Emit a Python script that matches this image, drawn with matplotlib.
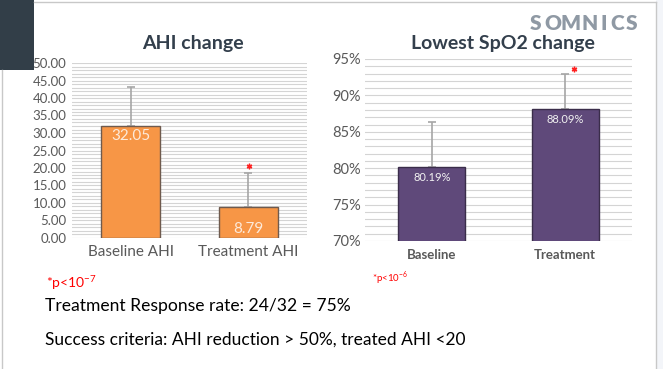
import numpy as np
import matplotlib.pyplot as plt
from matplotlib.patches import Rectangle
from matplotlib.lines import Line2D

plt.rcParams['font.family'] = ['Lato', 'DejaVu Sans']

# AHI chart data
ahi_labels = ['Baseline AHI', 'Treatment AHI']
ahi_means = [32.05, 8.79]
ahi_sd = [11.0, 9.7]
ahi_ticks = [0, 5, 10, 15, 20, 25, 30, 35, 40, 45, 50]

# SpO2 chart data
spo2_labels = ['Baseline', 'Treatment']
spo2_means = [80.19, 88.09]
spo2_sd = [6.1, 4.9]
spo2_ticks = [70, 75, 80, 85, 90, 95]

W, H = 663, 369
fig = plt.figure(figsize=(W / 100, H / 100), dpi=100)
fig.patch.set_facecolor('white')

def px(x, y, w, h):
    return [x / W, 1 - (y + h) / H, w / W, h / H]

# slide decorations
fig.patches.append(Rectangle((0, 1 - 70 / H), 34 / W, 70 / H, transform=fig.transFigure,
                             facecolor='#323e48', edgecolor='none'))
fig.patches.append(Rectangle((656 / W, 0), 7 / W, 1, transform=fig.transFigure,
                             facecolor='#f3f5f9', edgecolor='none'))
fig.lines.append(Line2D([34 / W, 656 / W], [1 - 2 / H, 1 - 2 / H], transform=fig.transFigure,
                        color='#c8c8c8', lw=1))
fig.lines.append(Line2D([2 / W, 2 / W], [0, 1 - 70 / H], transform=fig.transFigure,
                        color='#c8c8c8', lw=1))
fig.lines.append(Line2D([656 / W, 656 / W], [0, 1 - 2 / H], transform=fig.transFigure,
                        color='#c8c8c8', lw=1))

grid_c = '#d4d4d4'
star = (6, 2, 0)

# ---- left chart ----
ax1 = fig.add_axes(px(72, 63, 235, 175))
x = np.arange(len(ahi_labels))
ax1.bar(x, ahi_means, width=0.5, color='#f79646', edgecolor='#6e5a4e', linewidth=1, zorder=3)
ax1.errorbar(x, ahi_means, yerr=[np.zeros(len(x)), ahi_sd], fmt='none', ecolor='#a6a6a6',
             elinewidth=1.2, capsize=3, capthick=1.2, zorder=2)
ax1.set_xlim(-0.5, 1.5)
ax1.set_ylim(0, 50)
ax1.set_yticks(ahi_ticks)
ax1.set_yticklabels(['%.2f' % t for t in ahi_ticks])
ax1.set_yticks(np.arange(0, 51, 1), minor=True)
ax1.grid(True, axis='y', which='both', color=grid_c, lw=0.8, zorder=0)
ax1.set_xticks(x)
ax1.set_xticklabels(ahi_labels, fontsize=11, color='#595959')
ax1.tick_params(axis='both', which='both', length=0)
ax1.tick_params(axis='y', labelsize=9.5, labelcolor='#595959', pad=4)
ax1.tick_params(axis='x', pad=5)
for s in ax1.spines.values():
    s.set_visible(False)
ax1.text(0, ahi_means[0] - 1, '%.2f' % ahi_means[0], ha='center', va='top', color='#fdeada', fontsize=11)
ax1.text(1, 0.5, '%.2f' % ahi_means[1], ha='center', va='bottom', color='#fdeada', fontsize=11)
ax1.plot([1.01], [ahi_means[1] + ahi_sd[1] + 2.1], marker=star, color='#ff2020', ms=4, mew=1,
         ls='none', zorder=4, clip_on=False)
fig.text(193 / W, 1 - 43 / H, 'AHI change', ha='center', va='center', fontsize=14,
         fontweight='bold', color='#333f4c')

# ---- right chart ----
ax2 = fig.add_axes(px(365, 59, 267, 182))
x = np.arange(len(spo2_labels))
ax2.bar(x, spo2_means, width=0.5, color='#5f497a', edgecolor='#3a2d4a', linewidth=1, zorder=3)
ax2.errorbar(x, spo2_means, yerr=[np.zeros(len(x)), spo2_sd], fmt='none', ecolor='#a6a6a6',
             elinewidth=1.2, capsize=3, capthick=1.2, zorder=2)
ax2.set_xlim(-0.5, 1.5)
ax2.set_ylim(70, 95)
ax2.set_yticks(spo2_ticks)
ax2.set_yticklabels(['%d%%' % t for t in spo2_ticks])
ax2.set_yticks(np.arange(70, 96, 1), minor=True)
ax2.grid(True, axis='y', which='both', color=grid_c, lw=0.8, zorder=0)
ax2.set_xticks(x)
ax2.set_xticklabels(spo2_labels, fontsize=9.5, fontweight='bold', color='#595959')
ax2.tick_params(axis='both', which='both', length=0)
ax2.tick_params(axis='y', labelsize=10.5, labelcolor='#595959', pad=3)
ax2.tick_params(axis='x', pad=6)
for s in ax2.spines.values():
    s.set_visible(False)
for i, v in enumerate(spo2_means):
    ax2.text(i, v - 0.7, '%.2f%%' % v, ha='center', va='top', color='#f2f2f2', fontsize=8)
ax2.plot([1.066], [spo2_means[1] + spo2_sd[1] + 0.6], marker=star, color='#ff2020', ms=4, mew=1,
         ls='none', zorder=4, clip_on=False)
fig.text(503 / W, 1 - 43 / H, 'Lowest SpO2 change', ha='center', va='center', fontsize=14,
         fontweight='bold', color='#333f4c')

# logo, letter-spaced
for ch, cx in zip('SOMNICS', [536, 553, 571, 590, 604, 617, 632]):
    fig.text(cx / W, 1 - 23 / H, ch, ha='center', va='center', fontsize=15,
             fontweight='heavy', color='#8f99a4')

# ---- bottom text ----
fig.text(46 / W, 1 - 283 / H, r'*p<10$^{\mathregular{-7}}$', ha='left', va='center', fontsize=10, color='red')
fig.text(372 / W, 1 - 278 / H, r'*p<10$^{\mathregular{-6}}$', ha='left', va='center', fontsize=7, color='red')
fig.text(45 / W, 1 - 306 / H, 'Treatment Response rate: 24/32 = 75%', ha='left', va='center',
         fontsize=12.6, color='black')
fig.text(45 / W, 1 - 340 / H, 'Success criteria: AHI reduction > 50%, treated AHI <20', ha='left',
         va='center', fontsize=12.5, color='black')

fig.savefig('out.png', dpi=100)
